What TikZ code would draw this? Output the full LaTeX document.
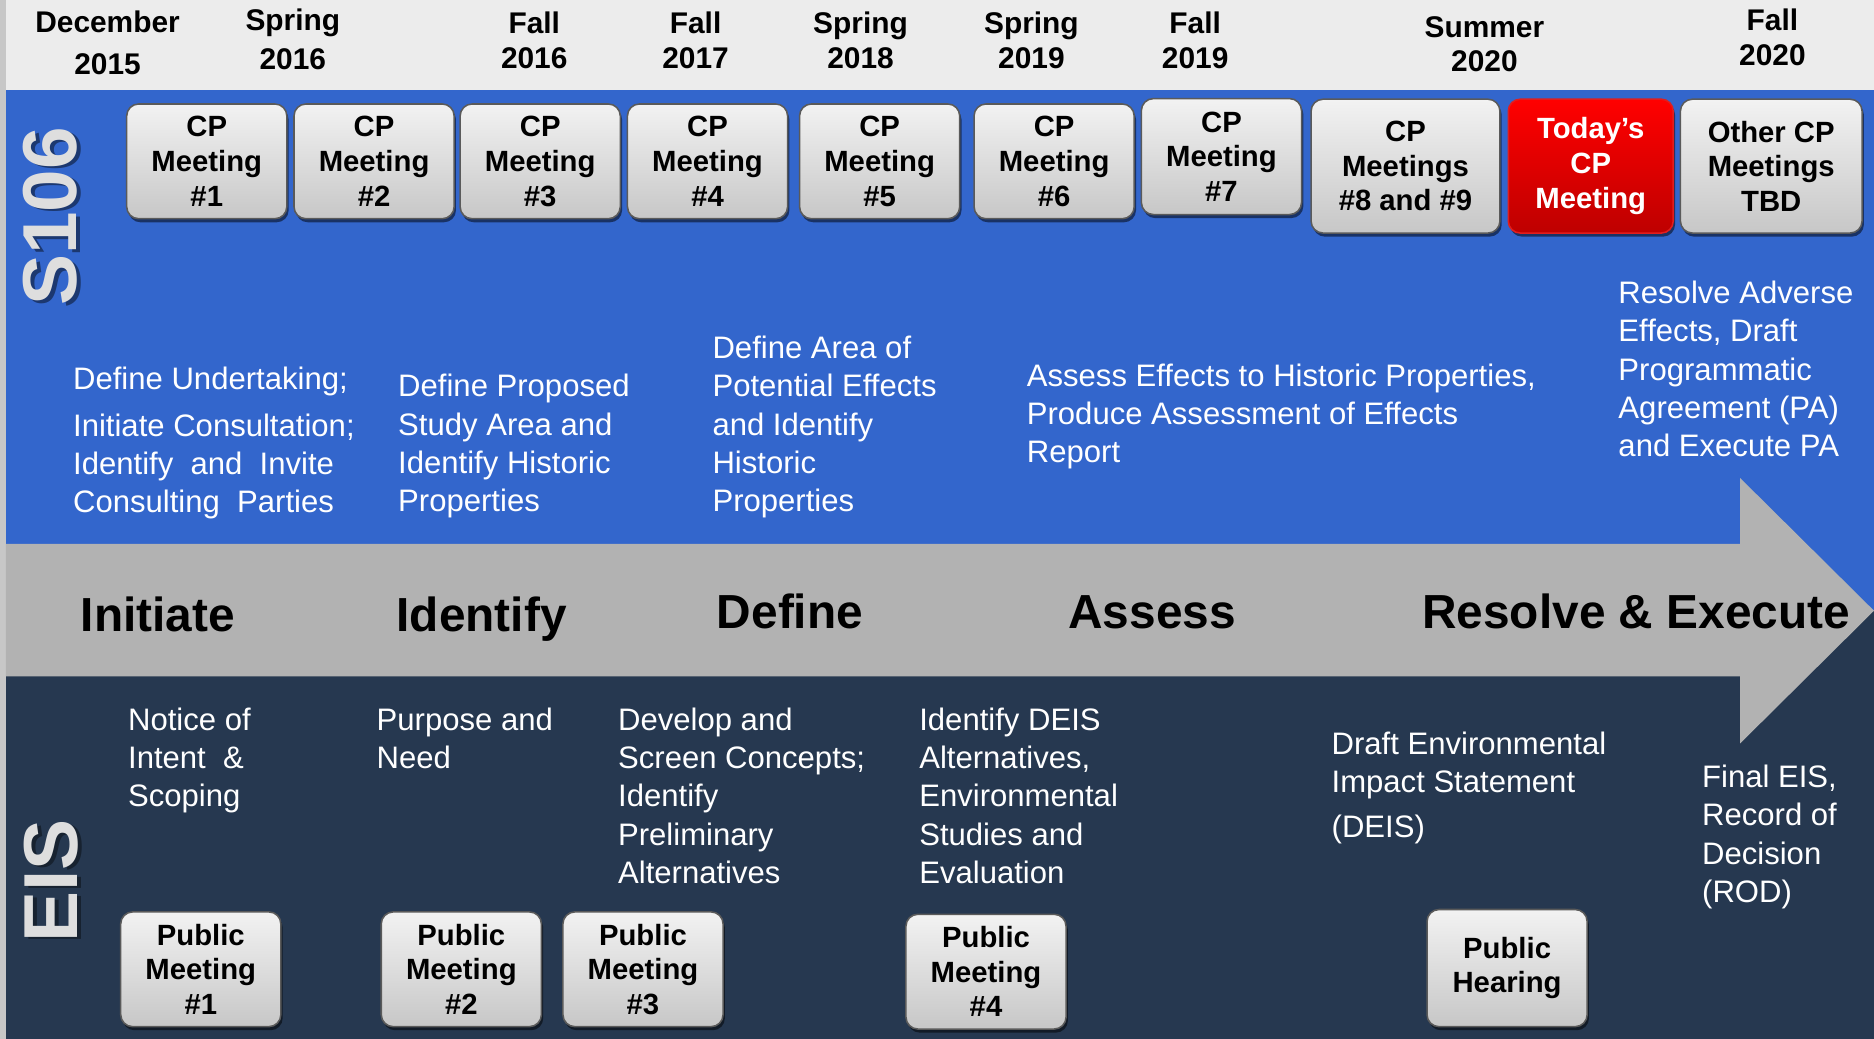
\documentclass[tikz,border=0pt]{standalone}
\usepackage{fontspec}
\setmainfont{Liberation Sans}
\usetikzlibrary{shadows}
\definecolor{bandblue}{RGB}{51,102,204}
\definecolor{bandgray}{RGB}{178,178,178}
\definecolor{bandnavy}{RGB}{38,56,80}
\definecolor{paper}{RGB}{236,236,236}
\definecolor{btnedge}{RGB}{90,90,90}
\definecolor{hotred}{RGB}{255,0,0}
\definecolor{deepred}{RGB}{190,0,0}
\definecolor{rededge}{RGB}{225,30,30}
\definecolor{sidetext}{RGB}{222,222,222}
\begin{document}
\begin{tikzpicture}[x=1pt,y=-1pt,
  btn/.style={draw=btnedge, line width=1.3pt, rounded corners=10pt,
    top color=white!95!black, bottom color=black!22,
    drop shadow={shadow xshift=1.5pt, shadow yshift=-3pt, opacity=.5, fill=black},
    font=\bfseries\fontsize{24.5}{29}\selectfont, align=center, inner sep=0pt,
    minimum width=134pt, minimum height=96pt},
  hotbtn/.style={btn, draw=rededge, top color=hotred, bottom color=deepred, text=white},
  datelbl/.style={font=\bfseries\fontsize{25}{29}\selectfont, align=center, inner sep=0pt},
  body/.style={font=\fontsize{26}{32}\selectfont, text=white, align=left, inner sep=0pt, anchor=north west},
  phase/.style={font=\bfseries\fontsize{40}{40}\selectfont, inner sep=0pt, anchor=base},
  sidelbl/.style={font=\bfseries\fontsize{64}{64}\selectfont, inner sep=0pt, rotate=90}
]
% canvas and bands
\fill[paper] (0,0) rectangle (1568,869);
\fill[black!22] (0,0) rectangle (5,869);
\fill[bandblue] (5,75) rectangle (1568,511);
\fill[bandnavy] (5,511) rectangle (1568,869);
\fill[bandgray] (5,455) -- (1456,455) -- (1456,400) -- (1568,511)
  -- (1456,622) -- (1456,566) -- (5,566) -- cycle;

% side labels, each over a darker copy as its shadow
\node[sidelbl, text=bandblue!55!black] at (45,183) {S106};
\node[sidelbl, text=sidetext] (s106) at (42,181) {S106};
\node[sidelbl, text=bandnavy!60!black] at (46,739) {EIS};
\node[sidelbl, text=sidetext] (eis) at (43,737) {EIS};

% dates
\node[datelbl] (d1) at (90,36) {December\\[6pt]2015};
\node[datelbl] (d2) at (245,33) {Spring\\[4pt]2016};
\node[datelbl] (d3) at (447,34) {Fall\\2016};
\node[datelbl] (d4) at (582,34) {Fall\\2017};
\node[datelbl] (d5) at (720,34) {Spring\\2018};
\node[datelbl] (d6) at (863,34) {Spring\\2019};
\node[datelbl] (d7) at (1000,34) {Fall\\2019};
\node[datelbl] (d8) at (1242,37) {Summer\\2020};
\node[datelbl] (d9) at (1483,31) {Fall\\2020};

% consulting party meetings
\node[btn] (cp1) at (173,135) {CP\\Meeting\\\#1};
\node[btn] (cp2) at (313,135) {CP\\Meeting\\\#2};
\node[btn] (cp3) at (452,135) {CP\\Meeting\\\#3};
\node[btn] (cp4) at (592,135) {CP\\Meeting\\\#4};
\node[btn] (cp5) at (736,135) {CP\\Meeting\\\#5};
\node[btn] (cp6) at (882,135) {CP\\Meeting\\\#6};
\node[btn, minimum height=97pt] (cp7) at (1022,131) {CP\\Meeting\\\#7};
\node[btn, minimum width=158pt, minimum height=112pt] (cp8) at (1176,139) {CP\\Meetings\\\#8 and \#9};
\node[hotbtn, minimum width=138pt, minimum height=112pt] (today) at (1331,139) {Today’s\\CP\\Meeting};
\node[btn, minimum width=152pt, minimum height=112pt] (cpo) at (1482,139) {Other CP\\Meetings\\TBD};

% Section 106 steps
\node[body] (s1) at (61,307) {Define Undertaking;\\[7pt]Initiate Consultation;\\Identify\ \ and\ \ Invite\\Consulting\ \ Parties};
\node[body] (s2) at (333,313) {Define Proposed\\Study Area and\\Identify Historic\\Properties};
\node[body] (s3) at (596,281) {Define Area of\\Potential Effects\\and Identify\\Historic\\Properties};
\node[body] (s4) at (859,304) {Assess Effects to Historic Properties,\\Produce Assessment of Effects\\Report};
\node[body] (s5) at (1354,235) {Resolve Adverse\\Effects, Draft\\Programmatic\\Agreement (PA)\\and Execute PA};

% phases
\node[phase] (p1) at (132,528) {Initiate};
\node[phase] (p2) at (403,528) {Identify};
\node[phase] (p3) at (661,526) {Define};
\node[phase] (p4) at (964,526) {Assess};
\node[phase] (p5) at (1369,526) {Resolve \& Execute};

% EIS steps
\node[body] (e1) at (107,592) {Notice of\\Intent\ \ \&\\Scoping};
\node[body] (e2) at (315,592) {Purpose and\\Need};
\node[body] (e3) at (517,592) {Develop and\\Screen Concepts;\\Identify\\Preliminary\\Alternatives};
\node[body] (e4) at (769,592) {Identify DEIS\\Alternatives,\\Environmental\\Studies and\\Evaluation};
\node[body] (e5) at (1114,612) {Draft Environmental\\Impact Statement\\[6pt](DEIS)};
\node[body] (e6) at (1424,640) {Final EIS,\\Record of\\Decision\\(ROD)};

% public meetings
\node[btn] (pm1) at (168,811) {Public\\Meeting\\\#1};
\node[btn] (pm2) at (386,811) {Public\\Meeting\\\#2};
\node[btn] (pm3) at (538,811) {Public\\Meeting\\\#3};
\node[btn] (pm4) at (825,813) {Public\\Meeting\\\#4};
\node[btn, minimum height=98pt] (ph) at (1261,810) {Public\\Hearing};
\end{tikzpicture}
\end{document}
